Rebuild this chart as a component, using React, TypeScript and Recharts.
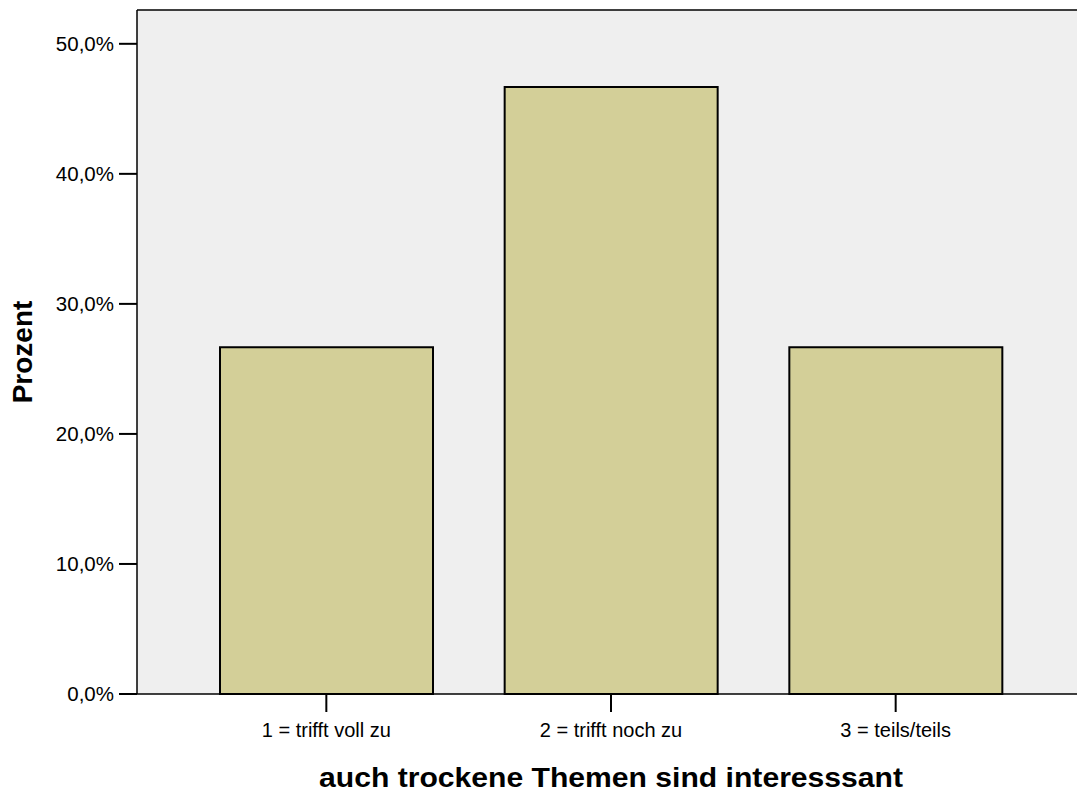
// Bar chart: "auch trockene Themen sind interesssant" (Prozent)

import {
  BarChart,
  Bar,
  XAxis,
  YAxis,
  CartesianGrid,
  ReferenceLine,
} from "recharts";

const categories = ["1 = trifft voll zu", "2 = trifft noch zu", "3 = teils/teils"];
const percents = [26.67, 46.67, 26.67];
const yTicks = [0, 10, 20, 30, 40, 50];
const yMax = 52.6;

const FONT = '"Liberation Sans", Arial, sans-serif';

const data = categories.map((name, i) => ({ name, value: percents[i] }));

const fmtPct = (v: number) => `${v.toFixed(1).replace(".", ",")}%`;

export default function App() {
  return (
    <div
      style={{
        position: "absolute",
        left: 0,
        top: 0,
        width: 1077,
        height: 794,
        overflow: "hidden",
        background: "#fff",
      }}
    >
      <BarChart
        width={1085}
        height={794}
        data={data}
        margin={{ top: 10, right: 0, left: 0, bottom: 0 }}
        style={{ fontFamily: FONT }}
      >
        <CartesianGrid fill="#efefef" horizontal={false} vertical={false} />
        <XAxis
          dataKey="name"
          height={100}
          padding={{ left: 47, right: 47 }}
          tickSize={18}
          tickMargin={11}
          axisLine={{ stroke: "#000", strokeWidth: 1.5 }}
          tickLine={{ stroke: "#000", strokeWidth: 2 }}
          tick={{ fill: "#000", fontSize: 20, fontFamily: FONT }}
          label={{
            content: ({ viewBox }: any) => (
              <text
                x={viewBox.x + viewBox.width / 2}
                y={787}
                textAnchor="middle"
                fontSize={27}
                fontWeight="bold"
                fontFamily={FONT}
                fill="#000"
                textLength={584}
                lengthAdjust="spacingAndGlyphs"
              >
                auch trockene Themen sind interesssant
              </text>
            ),
          }}
        />
        <YAxis
          width={137}
          domain={[0, yMax]}
          ticks={yTicks}
          interval={0}
          tickFormatter={fmtPct}
          tickSize={18}
          tickMargin={5}
          axisLine={{ stroke: "#000", strokeWidth: 1.5 }}
          tickLine={{ stroke: "#000", strokeWidth: 2 }}
          tick={{ fill: "#000", fontSize: 20.5, fontFamily: FONT }}
          label={{
            content: ({ viewBox }: any) => {
              const cx = 32;
              const cy = viewBox.y + viewBox.height / 2;
              return (
                <text
                  x={cx}
                  y={cy}
                  transform={`rotate(-90, ${cx}, ${cy})`}
                  textAnchor="middle"
                  fontSize={28}
                  fontWeight="bold"
                  fontFamily={FONT}
                  fill="#000"
                >
                  Prozent
                </text>
              );
            },
          }}
        />
        <ReferenceLine y={yMax} stroke="#000" strokeWidth={1.5} />
        <Bar
          dataKey="value"
          fill="#d3cf98"
          stroke="#000"
          strokeWidth={2}
          barSize={213}
          isAnimationActive={false}
        />
      </BarChart>
    </div>
  );
}
